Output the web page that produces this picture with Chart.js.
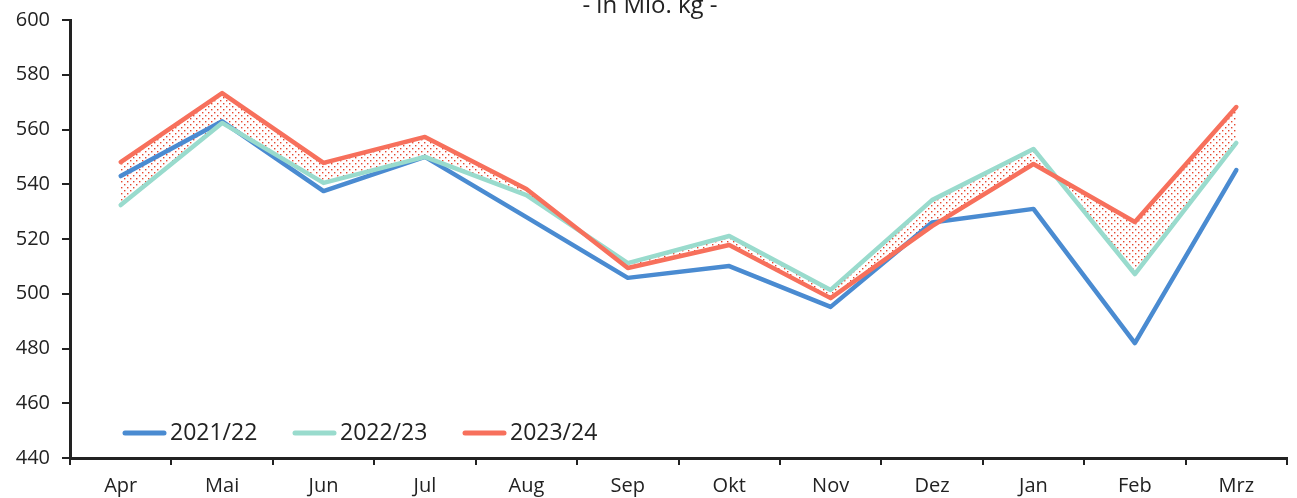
<!DOCTYPE html>
<html>
<head>
<meta charset="utf-8">
<script src="https://cdn.jsdelivr.net/npm/chart.js@4"></script>
<style>
  html, body { margin: 0; padding: 0; background: #fff; }
  #wrap { width: 1297px; height: 498px; position: relative; }
</style>
</head>
<body>
<div id="wrap"><canvas id="chart"></canvas></div>
<script>
  // months of the season
  var months = ["Apr", "Mai", "Jun", "Jul", "Aug", "Sep", "Okt", "Nov", "Dez", "Jan", "Feb", "Mrz"];

  // values in Mio. kg
  var season2122 = [543, 563, 537.5, 550, 528, 505.8, 510.1, 495.2, 526, 531, 482, 545.2];
  var season2223 = [532.4, 562.4, 540.5, 550, 536, 511.2, 521.1, 501.4, 534.2, 552.9, 507.2, 555.1];
  var season2324 = [548.1, 573.3, 547.8, 557.3, 538.3, 509.4, 517.8, 498.4, 524.7, 547.4, 526.2, 568.2];

  var seriesNames = ["2021/22", "2022/23", "2023/24"];
  var yTicks = [440, 460, 480, 500, 520, 540, 560, 580, 600];
  var titleText = "- in Mio. kg -";

  var BLUE = "#4a8bd1";
  var TEAL = "#99dbcd";
  var RED = "#f7705c";
  var INK = "#222222";
  var FONT = "'Open Sans', sans-serif";

  function dotPattern() {
    var c = document.createElement("canvas");
    c.width = 6;
    c.height = 6;
    var g = c.getContext("2d");
    g.fillStyle = "#e5462f";
    g.fillRect(1, 1, 1.4, 1.4);
    g.fillRect(4, 4, 1.4, 1.4);
    return g.createPattern(c, "repeat");
  }

  // title (cut at the top) and legend inside the plot, drawn by hand
  var extras = {
    id: "extras",
    afterDraw: function (chart) {
      var ctx = chart.ctx;
      ctx.save();
      ctx.fillStyle = INK;
      ctx.font = "24px " + FONT;
      ctx.textAlign = "center";
      ctx.textBaseline = "alphabetic";
      ctx.fillText(titleText, 650, 13);

      ctx.font = "23px " + FONT;
      ctx.textAlign = "left";
      ctx.textBaseline = "middle";
      var x = 123, y = 433;
      chart.data.datasets.forEach(function (ds) {
        ctx.strokeStyle = ds.borderColor;
        ctx.lineWidth = 5;
        ctx.lineCap = "round";
        ctx.beginPath();
        ctx.moveTo(x + 2, y);
        ctx.lineTo(x + 41, y);
        ctx.stroke();
        ctx.fillText(ds.label, x + 47, y);
        x += 170;
      });
      ctx.restore();
    }
  };

  new Chart(document.getElementById("chart"), {
    type: "line",
    data: {
      labels: months,
      datasets: [
        { label: seriesNames[0], data: season2122, borderColor: BLUE, order: 3, fill: false },
        { label: seriesNames[1], data: season2223, borderColor: TEAL, order: 2, fill: false },
        {
          label: seriesNames[2], data: season2324, borderColor: RED, order: 1,
          fill: { target: 1, above: dotPattern(), below: dotPattern() }
        }
      ]
    },
    options: {
      responsive: true,
      maintainAspectRatio: false,
      animation: false,
      elements: {
        point: { radius: 0, hoverRadius: 0 },
        line: { borderWidth: 4.5, tension: 0, borderCapStyle: "round", borderJoinStyle: "round" }
      },
      layout: { padding: { top: 20, right: 10, left: 0, bottom: 0 } },
      plugins: {
        legend: { display: false },
        tooltip: { enabled: false },
        filler: { drawTime: "beforeDatasetsDraw" }
      },
      scales: {
        x: {
          offset: true,
          grid: { offset: true, drawOnChartArea: false, drawTicks: true, tickLength: 7, color: INK, lineWidth: 2 },
          border: { color: INK, width: 3 },
          ticks: { color: INK, font: { family: FONT, size: 20 }, padding: 9, maxRotation: 0 },
          afterFit: function (s) { s.height = 40; }
        },
        y: {
          min: 440,
          max: 600,
          afterBuildTicks: function (s) { s.ticks = yTicks.map(function (v) { return { value: v }; }); },
          grid: { drawOnChartArea: false, drawTicks: true, tickLength: 8, color: INK, lineWidth: 2 },
          border: { color: INK, width: 3 },
          ticks: { color: INK, font: { family: FONT, size: 20, lineHeight: 1 }, padding: 12 },
          afterFit: function (s) { s.width = 70; s.paddingTop = 10; s.paddingBottom = 10; }
        }
      }
    },
    plugins: [extras]
  });
</script>
</body>
</html>
